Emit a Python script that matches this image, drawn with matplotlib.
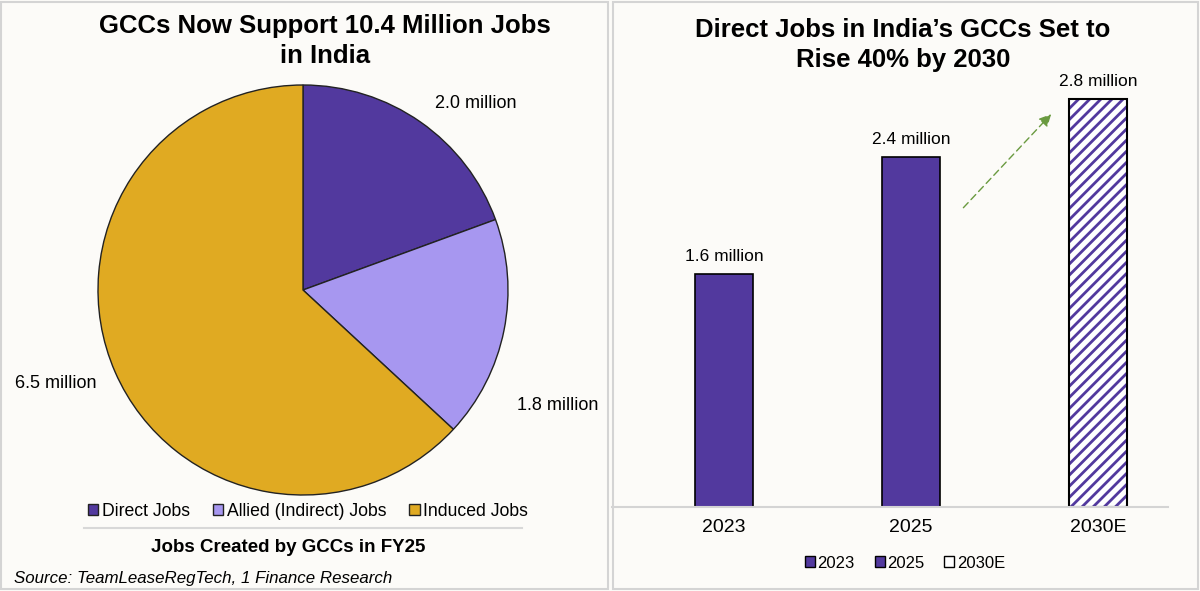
import matplotlib.pyplot as plt
from matplotlib.patches import Rectangle, Patch

# data
pie_labels = ['Direct Jobs', 'Allied (Indirect) Jobs', 'Induced Jobs']
pie_values = [2.0, 1.8, 6.5]
pie_colors = ['#52399e', '#a797f0', '#e0aa22']

years = ['2023', '2025', '2030E']
jobs = [1.6, 2.4, 2.8]

purple = '#52399e'
bg = '#fcfbf8'
plt.rcParams['hatch.linewidth'] = 2.0

fig = plt.figure(figsize=(12, 5.91), dpi=100, facecolor=bg)
W, H = 1200, 591

def box(x0, y0, x1, y1):
    # pixel coords (top-left origin) -> figure fraction
    return [x0 / W, 1 - y1 / H, (x1 - x0) / W, (y1 - y0) / H]

# panel frames
for x0, x1 in [(1, 608), (613, 1198)]:
    fig.patches.append(Rectangle((x0 / W, 2 / H), (x1 - x0) / W, (H - 4) / H,
                                 transform=fig.transFigure, fill=False,
                                 edgecolor='#d4d4d4', linewidth=1.5))

# ---- pie ----
ax1 = fig.add_axes(box(98, 85, 508, 495))
ax1.set_facecolor(bg)
wedges, _ = ax1.pie(pie_values, colors=pie_colors, startangle=90, counterclock=False,
                    wedgeprops=dict(edgecolor='#222222', linewidth=1))
ax1.set_xlim(-1.0, 1.0)
ax1.set_ylim(-1.0, 1.0)
ax1.set_aspect('equal')
fig.text(325 / W, 1 - 41 / H, 'GCCs Now Support 10.4 Million Jobs\nin India', ha='center',
         va='center', fontsize=18.5, fontweight='bold', family='Liberation Sans', linespacing=1.3)
label_pos = [(476, 103), (558, 406), (56, 384)]
for (x, y), v in zip(label_pos, pie_values):
    fig.text(x / W, 1 - y / H, f'{v:.1f} million', ha='center', va='center',
             fontsize=13, family='Liberation Sans')
handles = [Patch(facecolor=c, edgecolor='#222222', label=l) for c, l in zip(pie_colors, pie_labels)]
fig.legend(handles=handles, loc='center', bbox_to_anchor=(308 / W, 1 - 511 / H), ncol=3,
           frameon=False, prop={'family': 'Liberation Sans', 'size': 12.7},
           handlelength=0.6, handleheight=0.6, handletextpad=0.2, columnspacing=1.3)
fig.lines.append(plt.Line2D([84 / W, 522 / W], [1 - 528 / H] * 2, transform=fig.transFigure,
                            color='#d8d8d8', linewidth=1.5))
fig.text(288 / W, 1 - 548 / H, 'Jobs Created by GCCs in FY25', ha='center', va='center',
         fontsize=13.5, fontweight='bold', family='Liberation Sans')
fig.text(14 / W, 1 - 578 / H, 'Source: TeamLeaseRegTech, 1 Finance Research', ha='left',
         va='center', fontsize=12.2, style='italic', family='Liberation Sans')

# ---- bars ----
ax2 = fig.add_axes(box(612, 80, 1168, 507))
ax2.set_facecolor(bg)
x = range(len(years))
fills = [purple, purple, 'white']
hatches = [None, None, '///']
for i, (y, v) in enumerate(zip(years, jobs)):
    b = ax2.bar(i, v, width=0.31, color=fills[i], edgecolor='black', linewidth=1.2,
                hatch=hatches[i], label=y)
    if hatches[i]:
        b[0].set_edgecolor(purple)
        b[0].set_linewidth(0)
        ax2.bar(i, v, width=0.31, fill=False, edgecolor='black', linewidth=1.5)
    ax2.text(i, v + 0.07, f'{v:.1f} million', ha='center', va='bottom', fontsize=12.5,
             family='Liberation Sans')
ax2.set_xlim(-0.6, 2.375)
ax2.set_ylim(0, 2.8 * 427 / 408)
ax2.set_xticks(list(x))
ax2.set_xticklabels(years, fontsize=14, family='Liberation Sans')
ax2.tick_params(axis='x', length=0, pad=9)
ax2.set_yticks([])
for s in ['top', 'right', 'left']:
    ax2.spines[s].set_visible(False)
ax2.spines['bottom'].set_color('#d4d4d4')
ax2.spines['bottom'].set_linewidth(1.5)
ax2.annotate('', xy=(1.76, 2.35 + 0.36), xytext=(1.27, 2.04),
             arrowprops=dict(arrowstyle='-|>', color='#6a9a40', linestyle=(0, (5, 3)),
                             linewidth=1, mutation_scale=18))
fig.text(903 / W, 1 - 45 / H, 'Direct Jobs in India\u2019s GCCs Set to\nRise 40% by 2030',
         ha='center', va='center', fontsize=18.5, fontweight='bold', family='Liberation Sans',
         linespacing=1.3)
h2 = [Patch(facecolor=purple, edgecolor='black', label='2023'),
      Patch(facecolor=purple, edgecolor='black', label='2025'),
      Patch(facecolor='white', edgecolor='black', label='2030E')]
fig.legend(handles=h2, loc='center', bbox_to_anchor=(905 / W, 1 - 563 / H), ncol=3,
           frameon=False, prop={'family': 'Liberation Sans', 'size': 12},
           handlelength=0.6, handleheight=0.6, handletextpad=0.15, columnspacing=1.2)

fig.savefig('out.png', dpi=100, facecolor=bg)
